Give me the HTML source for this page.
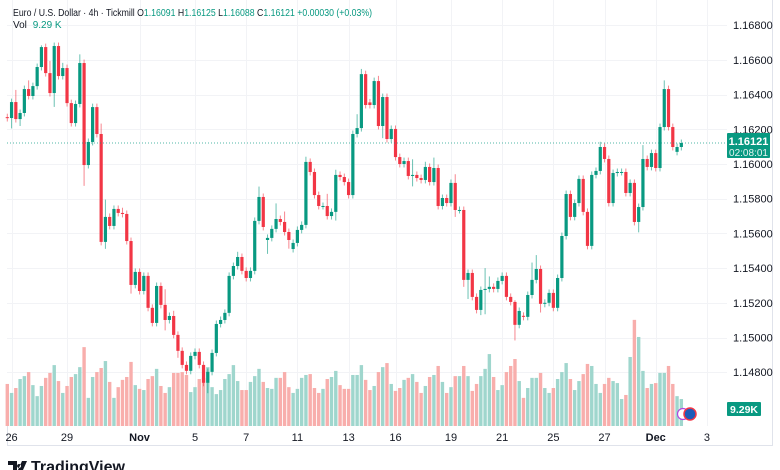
<!DOCTYPE html>
<html><head><meta charset="utf-8"><style>
html,body{margin:0;padding:0;background:#fff;}
svg{display:block;font-family:"Liberation Sans",sans-serif;}
</style></head><body>
<svg id="chart" width="780" height="470" viewBox="0 0 780 470" xmlns="http://www.w3.org/2000/svg">
<rect width="780" height="470" fill="#ffffff"/>
<g id="grid"></g>
<g id="vol"></g>
<g id="candles"></g>
<g id="axes"></g>
</svg>
<script>
const opens=[1.1627,1.16265,1.16357,1.16259,1.16294,1.16432,1.16392,1.16449,1.16559,1.16674,
1.16524,1.16409,1.1668,1.16507,1.16553,1.16351,1.16236,1.16346,1.16582,1.15994,
1.16127,1.16328,1.16173,1.15551,1.15695,1.15643,1.15741,1.15718,1.15712,1.15556,
1.15303,1.15378,1.15268,1.15355,1.15171,1.15084,1.15297,1.15188,1.15101,1.15124,
1.15015,1.14923,1.14842,1.14808,1.14894,1.14917,1.14842,1.14739,1.14802,1.14911,
1.15078,1.15101,1.15142,1.15355,1.15412,1.15464,1.15384,1.15343,1.15384,1.15672,
1.1581,1.15562,1.15574,1.15626,1.15683,1.15666,1.15608,1.1551,1.15545,1.1562,
1.15649,1.16012,1.15954,1.15821,1.15758,1.15758,1.157,1.15724,1.15937,1.15925,
1.15896,1.15821,1.16173,1.16207,1.16518,1.16355,1.1634,1.16478,1.16219,1.16386,
1.16144,1.16202,1.1604,1.16,1.16017,1.15931,1.15937,1.15919,1.15908,1.15983,
1.15896,1.15977,1.15758,1.15804,1.15775,1.15891,1.15735,1.15735,1.15332,1.15372,
1.15234,1.15159,1.15274,1.1528,1.15292,1.1528,1.15326,1.15355,1.15234,1.15205,
1.15073,1.15125,1.15119,1.15245,1.15332,1.15395,1.15194,1.152,1.15257,1.15171,
1.15343,1.15585,1.15827,1.15695,1.15775,1.15914,1.15724,1.15528,1.15937,1.1596,
1.16098,1.16029,1.15775,1.15948,1.15954,1.15954,1.15833,1.15891,1.15666,1.15752,
1.16029,1.15983,1.16063,1.15977,1.16213,1.16432,1.16213,1.1607,1.16098];
const closes=[1.16265,1.16357,1.16259,1.16294,1.16432,1.16392,1.16449,1.16559,1.16674,1.16524,
1.16409,1.1668,1.16507,1.16553,1.16351,1.16236,1.16346,1.16582,1.15994,1.16127,
1.16328,1.16173,1.15551,1.15695,1.15643,1.15741,1.15718,1.15712,1.15556,1.15303,
1.15378,1.15268,1.15355,1.15171,1.15084,1.15297,1.15188,1.15101,1.15124,1.15015,
1.14923,1.14842,1.14808,1.14894,1.14917,1.14842,1.14739,1.14802,1.14911,1.15078,
1.15101,1.15142,1.15355,1.15412,1.15464,1.15384,1.15343,1.15384,1.15672,1.1581,
1.15637,1.15574,1.15626,1.15683,1.15666,1.15608,1.15562,1.15545,1.1562,1.15649,
1.16012,1.15954,1.15821,1.15758,1.15758,1.157,1.15724,1.15937,1.15925,1.15896,
1.15821,1.16173,1.16207,1.16518,1.1634,1.1634,1.16478,1.16219,1.16386,1.16144,
1.16202,1.1604,1.16,1.16017,1.15931,1.15937,1.15919,1.15908,1.15983,1.15896,
1.15977,1.15758,1.15804,1.15775,1.15891,1.15735,1.15735,1.15332,1.15372,1.15234,
1.15159,1.15274,1.1528,1.15292,1.1528,1.15326,1.15355,1.15234,1.15205,1.15073,
1.15153,1.15119,1.15245,1.15332,1.15395,1.15194,1.152,1.15257,1.15171,1.15343,
1.15585,1.15827,1.15695,1.15775,1.15914,1.15724,1.15528,1.15937,1.1596,1.16098,
1.16029,1.15775,1.15948,1.15954,1.15954,1.15833,1.15891,1.15666,1.15752,1.16029,
1.15983,1.16063,1.15977,1.16213,1.16432,1.16213,1.16098,1.16098,1.16121];
const wickUpPips=[2,2,7,2,2,5,2,2,1,2, 7,2,2,3,2,2,2,5,2,2, 2,2,6,10,2,2,2,3,2,2, 2,2,2,2,2,2,2,9,2,3,
2,2,2,2,2,2,2,2,2,2, 2,2,2,2,3,2,2,2,2,6, 2,2,2,9,2,6,2,2,2,2, 3,2,2,2,2,7,2,3,2,2,
2,2,8,3,2,2,2,3,2,2, 2,2,2,2,2,9,2,2,3,2, 6,2,2,2,2,5,2,2,2,2, 2,2,12,6,2,2,2,2,2,1,
2,2,2,10,8,2,2,2,2,2, 2,2,2,2,2,2,2,2,2,3, 2,2,2,2,2,2,2,2,2,8, 2,2,2,2,5,2,2,2,2];
const wickDnPips=[2,6,2,4,2,2,2,2,2,2, 2,8,2,2,2,2,2,2,12,2, 2,2,2,4,2,2,2,2,2,5, 2,2,2,2,2,2,2,6,2,2,
4,2,2,2,2,2,2,6,2,2, 2,2,2,2,2,2,2,2,2,2, 2,8,2,2,2,2,5,2,2,2, 2,2,2,2,2,2,2,5,2,2,
2,2,2,2,2,2,2,2,7,2, 2,2,2,2,2,6,2,2,2,2, 2,2,2,2,2,4,2,4,11,2, 2,3,14,2,2,2,2,2,2,9,
2,2,2,2,2,5,2,2,2,2, 2,2,2,2,2,2,2,2,2,2, 2,2,2,2,2,2,2,2,6,2, 2,2,2,2,2,2,2,2,2];
const volumesK=[14.5,11.4,13.1,16.2,17.2,18.6,14.1,10.3,13.8,16.6, 18.3,21.0,15.5,11.4,13.8,16.9,17.9,20.3,27.2,9.7,
16.9,18.6,20.0,22.4,15.2,9.7,13.4,15.9,16.9,22.1, 14.1,12.8,12.4,16.2,17.2,19.7,13.8,11.4,13.4,18.3,
18.3,18.6,17.6,11.7,13.4,16.2,16.6,20.3,13.4,11.0, 12.4,16.2,17.9,21.0,15.5,12.4,12.4,15.2,17.2,19.7,
15.2,13.1,12.8,16.6,16.6,18.6,13.4,11.4,12.8,16.6, 17.6,17.9,13.1,11.4,12.8,16.2,16.9,19.0,14.1,12.8,
12.8,17.6,17.6,21.0,15.9,12.4,13.8,18.6,20.3,21.7, 14.5,12.1,13.1,15.9,16.6,17.9,15.2,11.4,13.8,16.9,
17.6,20.7,15.2,11.4,13.4,17.2,17.2,20.7,17.2,12.1, 14.5,17.2,19.7,24.8,16.9,12.4,14.1,18.6,20.7,23.1,
15.5,9.7,13.1,16.6,16.6,18.3,13.1,11.4,13.1,16.2, 18.6,21.7,16.2,12.4,15.5,17.9,21.4,20.7,14.5,11.4,
14.5,16.6,15.5,14.8,9.3,10.7,23.8,36.6,30.7,19.0, 13.1,14.5,14.8,18.3,18.3,20.7,14.5,10.3,9.3];
const priceTicks=["1.16800","1.16600","1.16400","1.16200","1.16000","1.15800","1.15600","1.15400","1.15200","1.15000","1.14800"];
const dateLabels=["26","29","Nov","5","7","11","13","16","19","21","25","27","Dec","3"];
const dateIdx=[1,14,31,44,56,68,80,91,104,116,128,140,152,164];
const lastPrice=1.16121;

const NS="http://www.w3.org/2000/svg";
const X0=7.3, STEP=4.266;
function xScale(i){return X0+i*STEP;}
function yScale(p){return 164-(p-1.16)/0.002*34.7;}
function vScale(v){return 426-v*2.9;}
function mk(tag,attrs,parent){const e=document.createElementNS(NS,tag);for(const k in attrs)e.setAttribute(k,attrs[k]);parent.appendChild(e);return e;}
const G=document.getElementById('grid'),V=document.getElementById('vol'),C=document.getElementById('candles'),A=document.getElementById('axes');
const GREEN="#089981",RED="#f23645";

priceTicks.forEach(t=>{const y=Math.round(yScale(parseFloat(t)))+0.5;
 const l=mk('line',{x1:7,x2:727,y1:y,y2:y,stroke:'#f2f3f6','stroke-width':1},G);
 
 
});
dateIdx.forEach(i=>{const x=Math.round(xScale(i))+0.5;
 const l=mk('line',{x1:x,x2:x,y1:0,y2:426,stroke:'#f2f3f6','stroke-width':1},G);
 
 
});

volumesK.forEach((v,i)=>{const up=closes[i]>=opens[i];const y=vScale(v);
 const r=mk('rect',{x:xScale(i)-1.7,y:y,width:3.4,height:426-y,fill:up?'#9fd6cd':'#f8aeac'},V);
 
 
});

closes.forEach((c,i)=>{const o=opens[i];const up=c>=o;const col=up?GREEN:RED;const x=xScale(i);
 const hi=Math.max(o,c)+wickUpPips[i]*0.0001, lo=Math.min(o,c)-wickDnPips[i]*0.0001;
 const g=mk('g',{},C);
 
 
 mk('line',{x1:x,x2:x,y1:yScale(hi),y2:yScale(lo),stroke:col,'stroke-width':1,'stroke-opacity':0.6},g);
 const yt=yScale(Math.max(o,c)),yb=yScale(Math.min(o,c));
 mk('rect',{x:x-1.6,y:yt,width:3.2,height:Math.max(1,yb-yt),fill:col},g);
});

const ly=yScale(lastPrice);
const pl=mk('line',{x1:7,x2:727,y1:ly,y2:ly,stroke:GREEN,'stroke-width':1,'stroke-dasharray':'1,2','stroke-opacity':0.7},A);



mk('line',{x1:7.5,x2:7.5,y1:426,y2:445,stroke:'#e0e3eb'},A);
mk('line',{x1:7,x2:772,y1:445.5,y2:445.5,stroke:'#e0e3eb'},A);
mk('line',{x1:772.5,x2:772.5,y1:0,y2:446,stroke:'#e0e3eb'},A);

priceTicks.forEach(t=>{const e=mk('text',{x:733,y:yScale(parseFloat(t))+4,'font-size':11,fill:'#131722'},A);e.textContent=t;
 
 
});
dateLabels.forEach((d,i)=>{const e=mk('text',{x:xScale(dateIdx[i]),y:441,'font-size':11,fill:'#131722','text-anchor':'middle'},A);e.textContent=d;
 if(d==='Nov'||d==='Dec')e.setAttribute('font-weight','bold');
 
 
});

const pb=mk('g',{},A);


mk('rect',{x:727,y:ly-10,width:43,height:25,fill:GREEN,rx:1},pb);
let t1=mk('text',{x:748.5,y:ly+2,'font-size':11,'font-weight':'bold',fill:'#fff','text-anchor':'middle'},pb);t1.textContent="1.16121";
let t2=mk('text',{x:748.5,y:ly+13,'font-size':10,fill:'#e6f5f2','text-anchor':'middle'},pb);t2.textContent="02:08:01";
const vb=mk('g',{},A);


mk('rect',{x:727,y:402,width:34,height:14,fill:GREEN,rx:1},vb);
let t3=mk('text',{x:744,y:413,'font-size':10.5,'font-weight':'bold',fill:'#fff','text-anchor':'middle'},vb);t3.textContent="9.29K";

const ic=mk('g',{},A);


mk('circle',{cx:683,cy:414,r:5.5,fill:'#fff',stroke:'#b344e0','stroke-width':1.2},ic);
mk('circle',{cx:690,cy:414,r:6,fill:'#1e5bb8',stroke:'#f23645','stroke-width':1.5},ic);

const h=mk('text',{x:13,y:16,'font-size':10,fill:'#131722',textLength:359,lengthAdjust:'spacingAndGlyphs'},A);


h.innerHTML='Euro / U.S. Dollar · 4h · Tickmill <tspan>O</tspan><tspan fill="#089981">1.16091</tspan> <tspan>H</tspan><tspan fill="#089981">1.16125</tspan> <tspan>L</tspan><tspan fill="#089981">1.16088</tspan> <tspan>C</tspan><tspan fill="#089981">1.16121</tspan> <tspan fill="#089981">+0.00030 (+0.03%)</tspan>';
const hv=mk('text',{x:13,y:28,'font-size':10,fill:'#131722'},A);


hv.innerHTML='Vol <tspan dx="3" fill="#089981">9.29 K</tspan>';

const lg=mk('g',{},A);


mk('path',{d:'M8 461h9v9h-4v-5h-5z M19 464a2 2 0 1 0 0.1 0z M22 461h5l-4 9h-5z',fill:'#131722'},lg);
let lt=mk('text',{x:31,y:472,'font-size':16,'font-weight':'bold',fill:'#131722'},lg);lt.textContent="TradingView";
</script>
</body></html>
